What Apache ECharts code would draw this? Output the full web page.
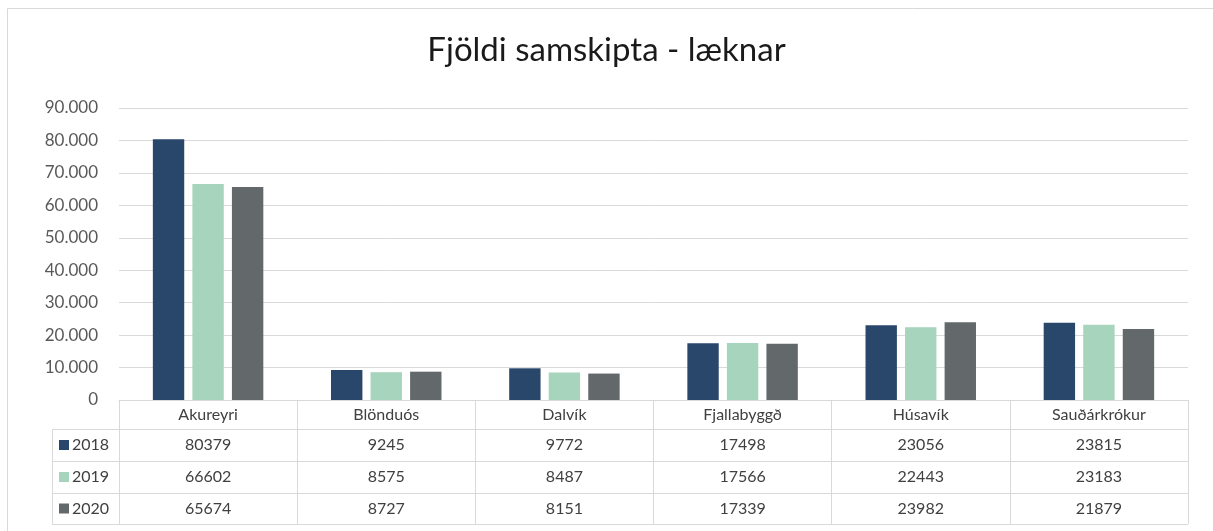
<!DOCTYPE html>
<html>
<head>
<meta charset="utf-8">
<script src="https://cdn.jsdelivr.net/npm/echarts@6/dist/echarts.min.js"></script>
<style>
html, body { margin: 0; padding: 0; background: #fff; overflow: hidden; }
#chart { width: 1213px; height: 531px; }
</style>
</head>
<body>
<div id="chart"></div>
<script>
// data
var categories = ['Akureyri', 'Blönduós', 'Dalvík', 'Fjallabyggð', 'Húsavík', 'Sauðárkrókur'];
var years = ['2018', '2019', '2020'];
var values2018 = [80379, 9245, 9772, 17498, 23056, 23815];
var values2019 = [66602, 8575, 8487, 17566, 22443, 23183];
var values2020 = [65674, 8727, 8151, 17339, 23982, 21879];

var seriesValues = [values2018, values2019, values2020];
var colors = ['#29466b', '#a6d4bd', '#63686b'];

// layout
var gridLeft = 119, gridRight = 25, gridTop = 108, gridBottom = 131;
var rowOffsets = [0, 29, 61, 93];
var rowHeights = [29, 32, 32, 31];
var tableLeft = 52;
var lineColor = '#d9d9d9';
var textColor = '#595959';
var tableText = '#404040';
var font = 'Lato, "Open Sans", sans-serif';

function fmt(v){
	return String(v).replace(/\B(?=(\d{3})+(?!\d))/g, '.');
}

var xAxes = [{
	type: 'category',
	data: categories,
	position: 'bottom',
	offset: 0,
	axisLine: { show: true, onZero: false, lineStyle: { color: lineColor } },
	axisTick: { show: true, interval: 0, length: rowHeights[0], lineStyle: { color: lineColor } },
	axisLabel: { interval: 0, margin: 15, verticalAlign: 'middle', color: tableText, fontSize: 16, fontFamily: font }
}];
seriesValues.forEach(function(vals, i){
	xAxes.push({
		type: 'category',
		data: vals.map(String),
		position: 'bottom',
		offset: rowOffsets[i + 1],
		axisLine: { show: true, onZero: false, lineStyle: { color: lineColor } },
		axisTick: { show: true, interval: 0, length: rowHeights[i + 1], lineStyle: { color: lineColor } },
		axisLabel: { interval: 0, margin: 16, verticalAlign: 'middle', color: tableText, fontSize: 16, fontFamily: font }
	});
});

var series = years.map(function(y, i){
	return {
		name: y,
		type: 'bar',
		xAxisIndex: 0,
		data: seriesValues[i],
		itemStyle: { color: colors[i] },
		barCategoryGap: '38%',
		barGap: '26%'
	};
});

// legend column of the data table
var H = 531;
var axisY = H - gridBottom;
var tableBottom = axisY + rowOffsets[3] + rowHeights[3];
var graphics = [{
	type: 'rect',
	z: -10,
	shape: { x: 7.5, y: 8.5, width: 1400, height: 700 },
	style: { fill: 'none', stroke: lineColor, lineWidth: 1 }
}, {
	type: 'line',
	shape: { x1: tableLeft, y1: tableBottom + 0.5, x2: 1213 - gridRight, y2: tableBottom + 0.5 },
	style: { stroke: lineColor, lineWidth: 1 }
}, {
	type: 'line',
	shape: { x1: tableLeft + 0.5, y1: axisY + rowOffsets[1], x2: tableLeft + 0.5, y2: tableBottom },
	style: { stroke: lineColor, lineWidth: 1 }
}];
years.forEach(function(y, i){
	var top = axisY + rowOffsets[i + 1];
	var mid = top + rowHeights[i + 1] / 2;
	graphics.push({
		type: 'line',
		shape: { x1: tableLeft, y1: top + 0.5, x2: gridLeft, y2: top + 0.5 },
		style: { stroke: lineColor, lineWidth: 1 }
	});
	graphics.push({
		type: 'rect',
		shape: { x: 59, y: mid - 5, width: 10, height: 10 },
		style: { fill: colors[i] }
	});
	graphics.push({
		type: 'text',
		x: 72, y: mid,
		style: { text: y, fill: tableText, font: '16px ' + font, verticalAlign: 'middle' }
	});
});

var option = {
	animation: false,
	title: {
		text: 'Fjöldi samskipta - læknar',
		left: 'center',
		top: 29,
		textStyle: { fontSize: 33, fontWeight: 'normal', color: '#1a1a1a', fontFamily: font }
	},
	grid: { left: gridLeft, right: gridRight, top: gridTop, bottom: gridBottom, containLabel: false },
	xAxis: xAxes,
	yAxis: {
		type: 'value',
		min: 0,
		max: 90000,
		interval: 10000,
		axisLine: { show: false },
		axisTick: { show: false },
		splitLine: { lineStyle: { color: lineColor } },
		axisLabel: { margin: 21, color: textColor, fontSize: 17, fontFamily: font, formatter: fmt }
	},
	series: series,
	graphic: graphics
};

var chart = echarts.init(document.getElementById('chart'));
chart.setOption(option);
window.addEventListener('resize', function(){
	chart.resize();
});
</script>
</body>
</html>
